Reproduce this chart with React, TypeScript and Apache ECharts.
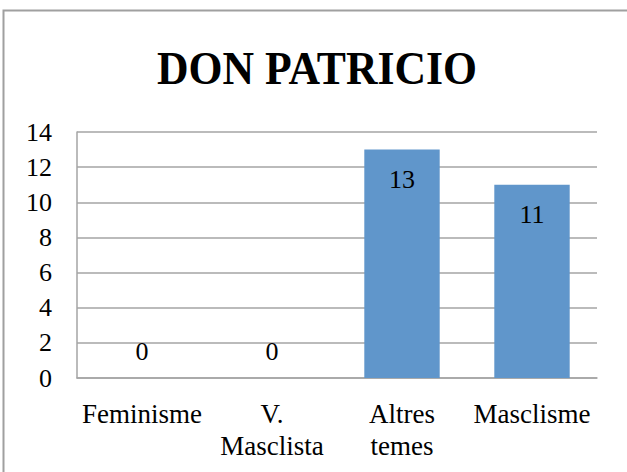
import React, { useEffect, useRef } from "react";
import * as echarts from "echarts";

const title = "DON PATRICIO";
const categories = ["Feminisme", "V.\nMasclista", "Altres\ntemes", "Masclisme"];
const values = [0, 0, 13, 11];
const yMin = 0;
const yMax = 14;
const yStep = 2;

const FONT = "'Liberation Serif', 'Times New Roman', serif";

export default function App() {
  const ref = useRef<HTMLDivElement>(null);
  useEffect(() => {
    document.body.style.margin = "0";
    const chart = echarts.init(ref.current!, null, { renderer: "svg" });
    const labelStyle = {
      fontFamily: FONT,
      fontSize: 26,
      color: "#000000",
    };
    chart.setOption({
      animation: false,
      backgroundColor: "#ffffff",
      textStyle: { fontFamily: FONT },
      graphic: [
        {
          type: "rect",
          shape: { x: 3.5, y: 10.5, width: 800, height: 700 },
          style: { fill: "none", stroke: "#a0a0a0", lineWidth: 2 },
          silent: true,
        },
        {
          type: "text",
          x: 317,
          y: 68,
          scaleX: 0.93,
          style: {
            text: title,
            font: `bold 47px ${FONT}`,
            fill: "#000000",
            align: "center",
            verticalAlign: "middle",
          },
        },
      ],
      grid: { left: 77, top: 132, right: 30, bottom: 94, containLabel: false },
      xAxis: {
        type: "category",
        data: categories,
        axisLine: { show: true, lineStyle: { color: "#a5a5a5", width: 1.5 } },
        axisTick: { show: false },
        axisLabel: {
          fontFamily: FONT,
          fontSize: 27,
          color: "#000000",
          lineHeight: 32,
          margin: 20,
          interval: 0,
        },
      },
      yAxis: {
        type: "value",
        min: yMin,
        max: yMax,
        interval: yStep,
        axisLine: { show: true, lineStyle: { color: "#a5a5a5", width: 1.5 } },
        axisTick: { show: false },
        splitLine: { show: true, lineStyle: { color: "#a5a5a5", width: 1.5 } },
        axisLabel: {
          fontFamily: FONT,
          fontSize: 26,
          color: "#000000",
          margin: 25,
        },
      },
      series: [
        {
          type: "bar",
          barWidth: "58%",
          itemStyle: { color: "#6096CB" },
          data: values.map((v) =>
            v === 0
              ? { value: v, label: { ...labelStyle, show: true, position: "top", distance: 14 } }
              : { value: v, label: { ...labelStyle, show: true, position: "insideTop", distance: 17 } }
          ),
          label: {
            show: true,
            position: "insideTop",
            distance: 17,
            ...labelStyle,
          },
        },
      ],
    });
    return () => chart.dispose();
  }, []);
  return <div ref={ref} style={{ width: 627, height: 472 }} />;
}
